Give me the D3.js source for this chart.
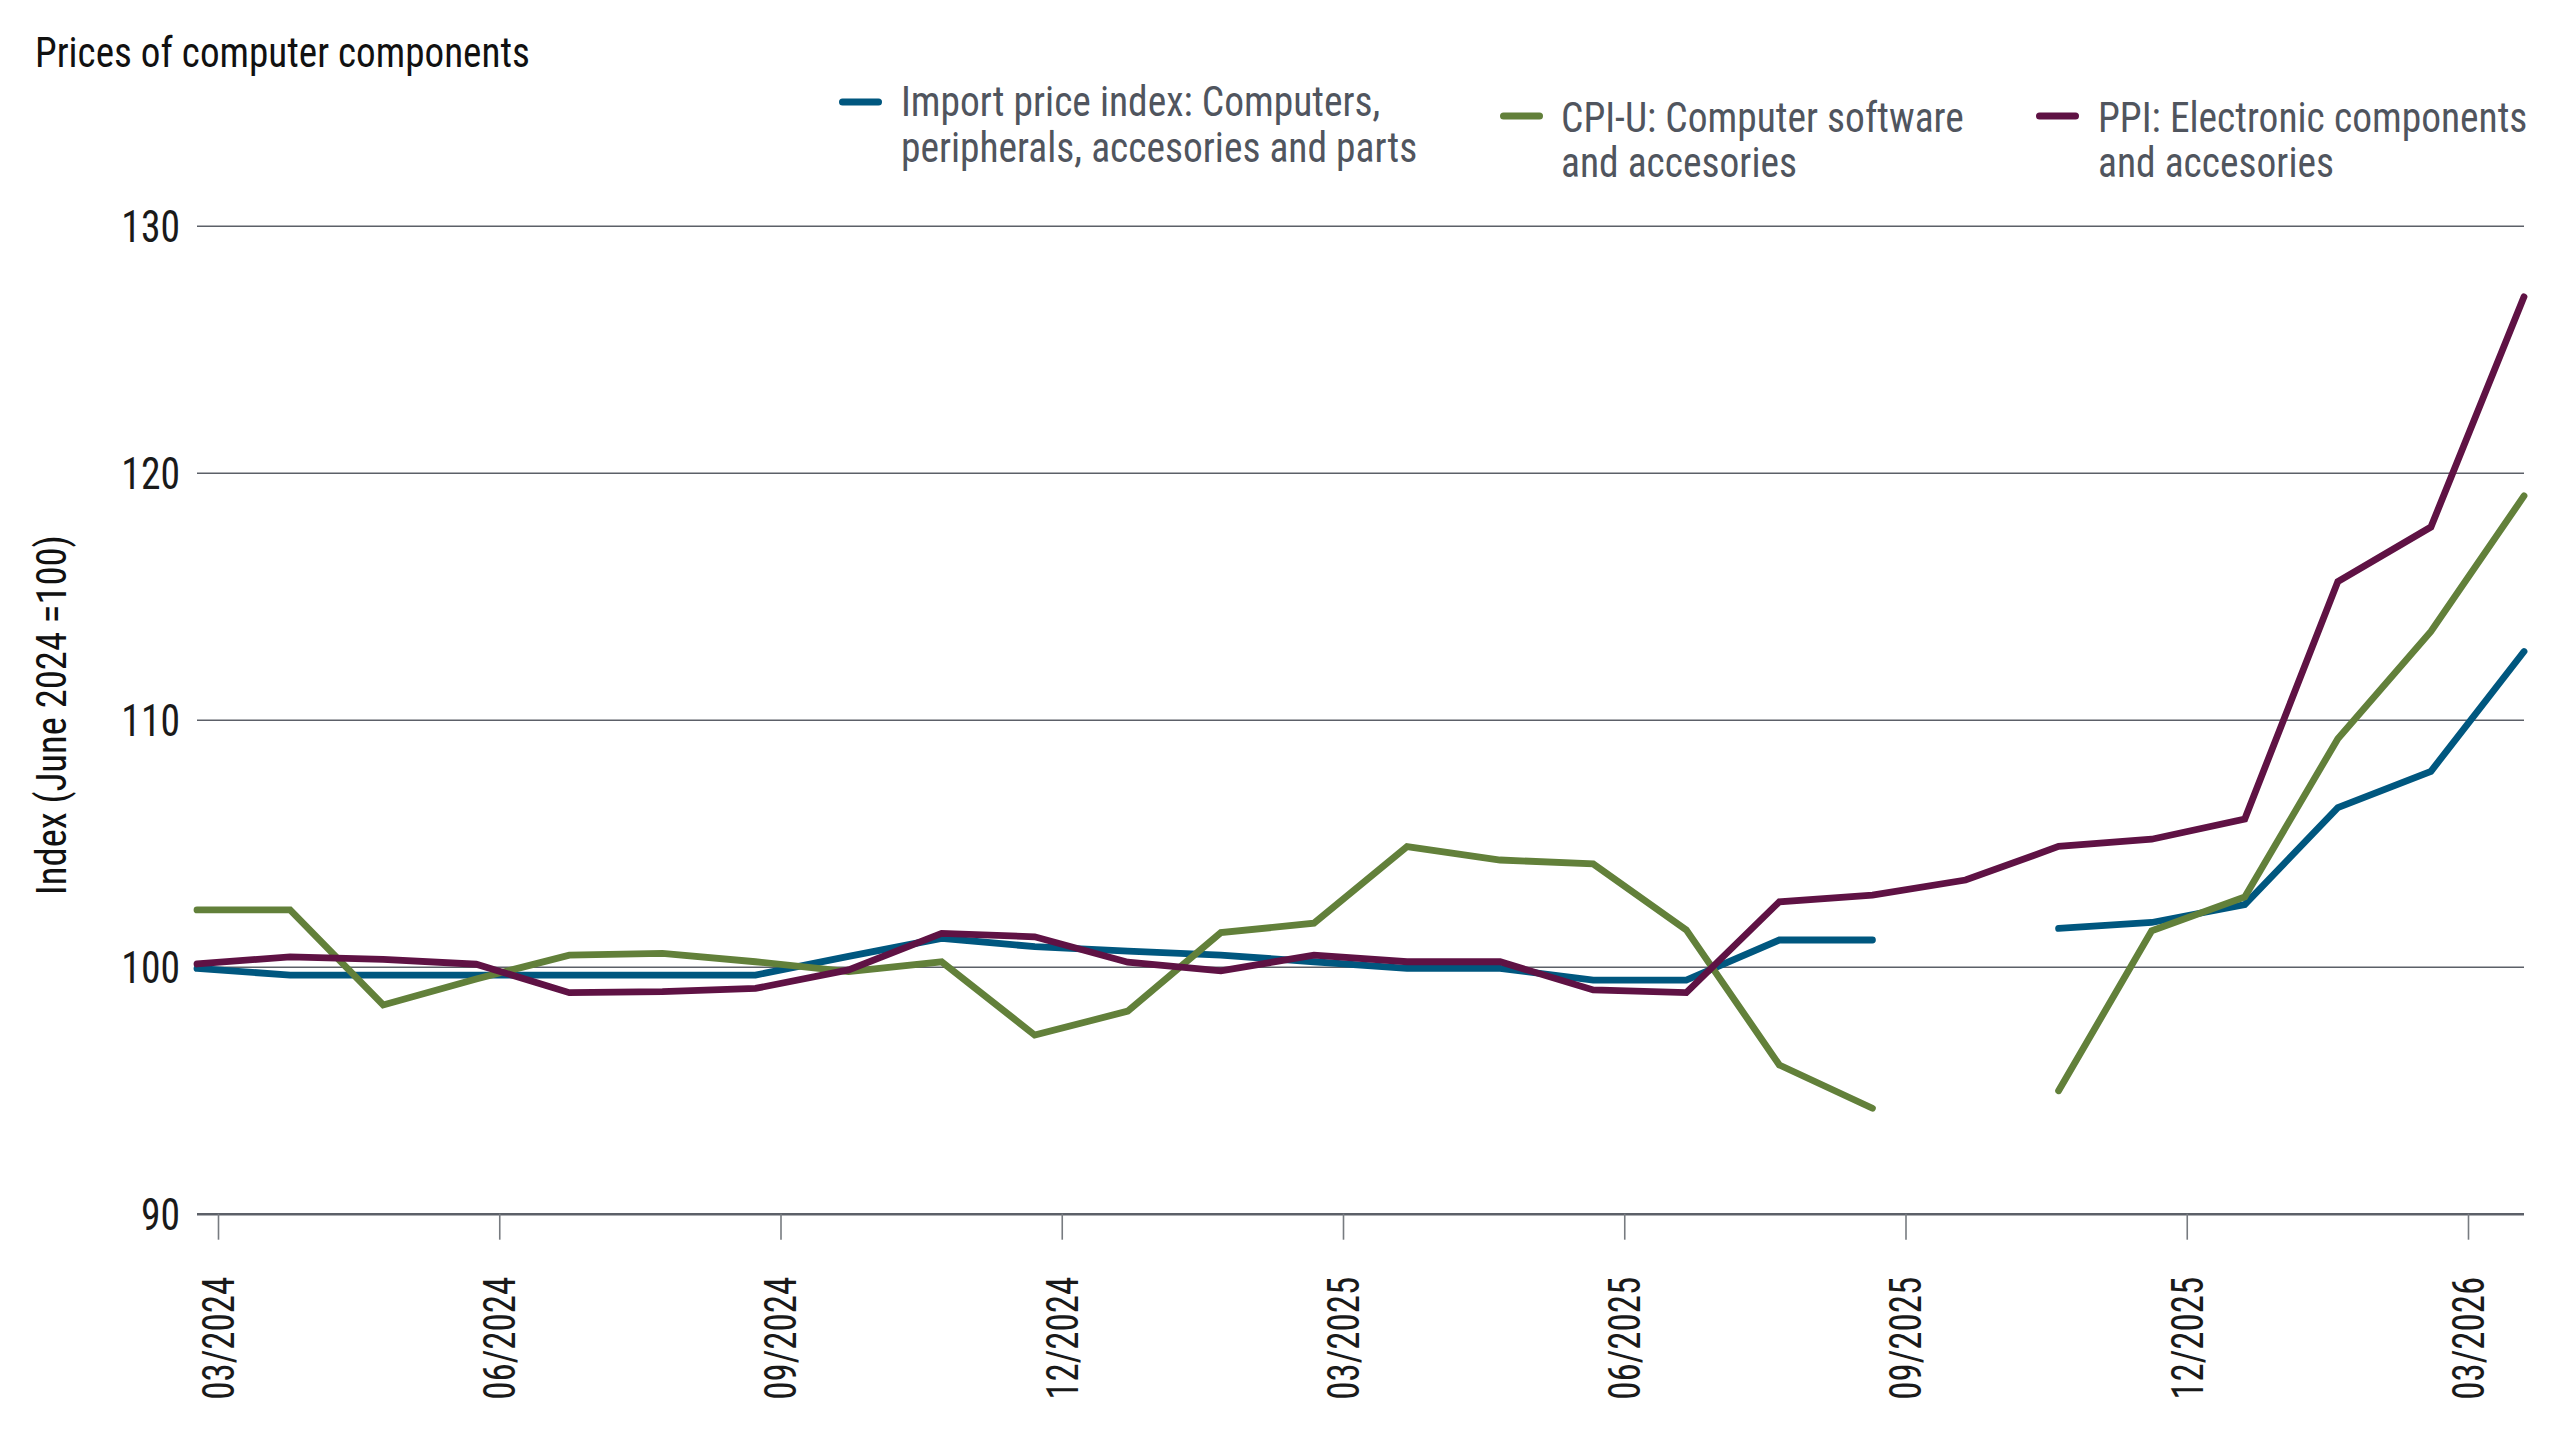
<!DOCTYPE html>
<html>
<head>
<meta charset="utf-8">
<script src="https://cdn.jsdelivr.net/npm/d3@7"></script>
<style>
  html, body { margin: 0; padding: 0; background: #ffffff; }
  svg { display: block; }
  text { font-family: 'Roboto Condensed', 'Liberation Sans Narrow', 'Arial Narrow', Roboto, sans-serif; }
</style>
</head>
<body>
<svg id="chart" width="2560" height="1440"></svg>
<script>
// ---------- data ----------
const months = ["2024-03","2024-04","2024-05","2024-06","2024-07","2024-08","2024-09","2024-10","2024-11","2024-12",
                "2025-01","2025-02","2025-03","2025-04","2025-05","2025-06","2025-07","2025-08","2025-09","2025-10",
                "2025-11","2025-12","2026-01","2026-02","2026-03","2026-04"];

const importPrice = [99.93, 99.66, 99.66, 99.66, 99.66, 99.66, 99.66, 100.42, 101.15, 100.81,
                     100.63, 100.47, 100.2, 99.93, 99.93, 99.46, 99.46, 101.08, 101.08, null,
                     101.55, 101.79, 102.51, 106.44, 107.91, 112.76];

const cpiSoftware = [102.3, 102.3, 98.45, 99.5, 100.47, 100.54, 100.2, 99.8, 100.2, 97.23,
                     98.2, 101.38, 101.76, 104.86, 104.32, 104.16, 101.49, 96.02, 94.27, null,
                     94.98, 101.45, 102.82, 109.23, 113.57, 119.06];

const ppiElectronic = [100.11, 100.4, 100.3, 100.1, 98.95, 98.99, 99.12, 99.87, 101.35, 101.21,
                       100.18, 99.83, 100.47, 100.2, 100.2, 99.06, 98.95, 102.63, 102.9, 103.51,
                       104.87, 105.16, 105.98, 115.59, 117.8, 127.12];

const seriesNames = [
  ["Import price index: Computers,", "peripherals, accesories and parts"],
  ["CPI-U: Computer software", "and accesories"],
  ["PPI: Electronic components", "and accesories"]
];
const seriesColors = ["#00577f", "#62803a", "#5f1244"];

const xTickLabels = ["03/2024","06/2024","09/2024","12/2024","03/2025","06/2025","09/2025","12/2025","03/2026"];
const yTicks = [90, 100, 110, 120, 130];

const titleText = "Prices of computer components";
const yAxisTitle = "Index (June 2024 =100)";

// ---------- layout ----------
const plot = { left: 197, right: 2524, top: 225.7, bottom: 1213.7 };
const svg = d3.select("#chart");

const x = d3.scalePoint().domain(months).range([plot.left, plot.right]);
const xTick = d3.scalePoint().domain(xTickLabels).range([218, 2468]);
const y = d3.scaleLinear().domain([90, 130]).range([plot.bottom, plot.top]);

// title
svg.append("text")
  .attr("transform", "translate(35,66.5) scale(0.91,1)")
  .attr("fill", "#111111")
  .style("font-size", "43px")
  .text(titleText);

// y axis with gridlines
const yScaleX = 0.9;
const yAxis = svg.append("g")
  .attr("transform", `translate(${plot.left},0)`)
  .call(d3.axisLeft(y).tickValues(yTicks).tickSize(-(plot.right - plot.left)).tickFormat(d3.format("d")));
yAxis.select(".domain").remove();
yAxis.selectAll(".tick line")
  .attr("stroke", "#5c6068")
  .attr("stroke-width", d => d === 90 ? 2.6 : 1.6);
yAxis.selectAll(".tick text")
  .attr("fill", "#1a1a1a")
  .style("font-size", "44px")
  .attr("x", -17 / yScaleX)
  .attr("transform", `scale(${yScaleX},1)`)
  .attr("dy", "0.35em");

// x axis ticks & labels
const xScaleText = 0.84;
const xAxis = svg.append("g")
  .attr("transform", `translate(0,${plot.bottom})`)
  .call(d3.axisBottom(xTick).tickSize(26).tickSizeOuter(0));
xAxis.select(".domain").remove();
xAxis.selectAll(".tick line").attr("stroke", "#777b80").attr("stroke-width", 1.6);
xAxis.selectAll(".tick text")
  .attr("fill", "#1a1a1a")
  .style("font-size", "44px")
  .attr("transform", `rotate(-90) scale(${xScaleText},1)`)
  .attr("x", -63 / xScaleText).attr("y", 0).attr("dy", "0.35em")
  .style("text-anchor", "end");

// y axis title
svg.append("text")
  .attr("transform", "translate(66,715) rotate(-90) scale(0.92,1)")
  .attr("text-anchor", "middle")
  .attr("fill", "#111111")
  .style("font-size", "42px")
  .text(yAxisTitle);

// lines
const allSeries = [importPrice, cpiSoftware, ppiElectronic];
const line = d3.line()
  .defined(d => d.v !== null)
  .x(d => x(d.m))
  .y(d => y(d.v));

allSeries.forEach((vals, i) => {
  const pts = months.map((m, j) => ({ m: m, v: vals[j] }));
  svg.append("path")
    .datum(pts)
    .attr("fill", "none")
    .attr("stroke", seriesColors[i])
    .attr("stroke-width", 6.8)
    .attr("stroke-linecap", "round")
    .attr("stroke-linejoin", "miter")
    .attr("d", line);
});

// legend
const legendPos = [
  { x: 842.5, y: 102, tx: 901, ty: 116 },
  { x: 1503.5, y: 116, tx: 1561, ty: 131.5 },
  { x: 2039.5, y: 116, tx: 2098, ty: 131.5 }
];
const legend = svg.append("g");
seriesNames.forEach((lines, i) => {
  const p = legendPos[i];
  legend.append("line")
    .attr("x1", p.x).attr("x2", p.x + 36)
    .attr("y1", p.y).attr("y2", p.y)
    .attr("stroke", seriesColors[i])
    .attr("stroke-width", 7)
    .attr("stroke-linecap", "round");
  const t = legend.append("text")
    .attr("transform", `translate(${p.tx},${p.ty}) scale(0.94,1)`)
    .attr("fill", "#50555e")
    .style("font-size", "42px");
  lines.forEach((s, k) => {
    t.append("tspan").attr("x", 0).attr("dy", k === 0 ? 0 : 46).text(s);
  });
});
</script>
</body>
</html>
